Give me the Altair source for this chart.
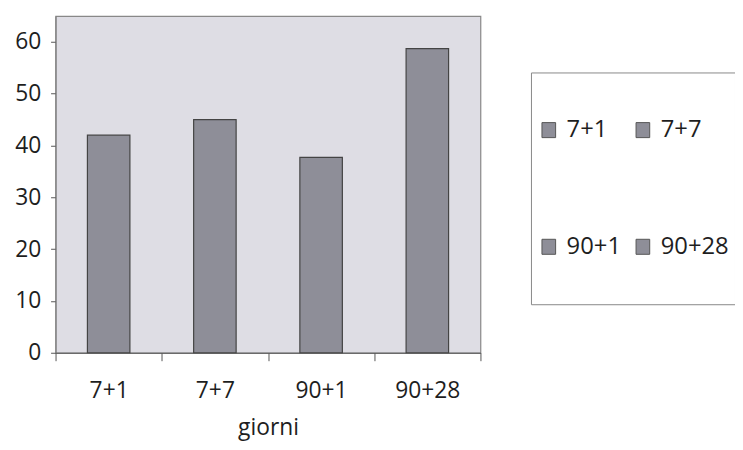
import altair as alt
import pandas as pd

categories = ["7+1", "7+7", "90+1", "90+28"]
values = [42, 45, 37.7, 58.7]
y_ticks = [0, 10, 20, 30, 40, 50, 60]

df = pd.DataFrame({"giorni": categories, "valore": values})

FONT = "Open Sans"
BAR = "#8e8e98"
TEXT = "#1e1e1e"

chart = alt.Chart(df).mark_bar(
    stroke="#444444", strokeWidth=1.2, width=alt.RelativeBandSize(0.4)
).encode(
    x=alt.X(
        "giorni:N", sort=categories,
        scale=alt.Scale(paddingInner=0, paddingOuter=0),
        axis=alt.Axis(
            title="giorni", labelAngle=0, tickBand="extent", tickSize=8,
            labelFontSize=23, labelPadding=19, labelColor=TEXT,
            titleFontSize=23, titleFontWeight="normal", titleColor=TEXT,
            titlePadding=15, domainColor="#555555", tickColor="#555555",
            labelFont=FONT, titleFont=FONT,
        ),
    ),
    y=alt.Y(
        "valore:Q",
        scale=alt.Scale(domain=[0, 65], nice=False),
        axis=alt.Axis(
            title=None, values=y_ticks, grid=False, tickSize=5,
            labelFontSize=23, labelPadding=10, labelColor=TEXT,
            domainColor="#777777", tickColor="#555555", labelFont=FONT,
        ),
    ),
    color=alt.Color(
        "giorni:N", sort=categories,
        scale=alt.Scale(domain=categories, range=[BAR] * 4),
        legend=alt.Legend(
            orient="none", legendX=480, legendY=57, columns=2,
            direction="horizontal",
            title=" ", titleFontSize=20, titlePadding=20,
            strokeColor="#888888", fillColor="white", padding=6,
            symbolType="M-1,-1.1H1V1.1H-1ZM0,7.2",
            symbolSize=190, symbolStrokeColor="#555555",
            symbolStrokeWidth=1, symbolOpacity=1,
            labelFontSize=24, labelOffset=6, labelColor=TEXT, labelFont=FONT,
            columnPadding=10, rowPadding=54,
        ),
    ),
).properties(
    width=429, height=340,
    background="white",
    autosize=alt.AutoSizeParams(type="none"),
    padding={"left": 48, "top": 6, "right": 257, "bottom": 88},
).configure_view(
    fill="#dedde4", stroke="#888888", strokeWidth=1.2
)

chart.save("out.html", embed_options={"renderer": "svg", "actions": False})
